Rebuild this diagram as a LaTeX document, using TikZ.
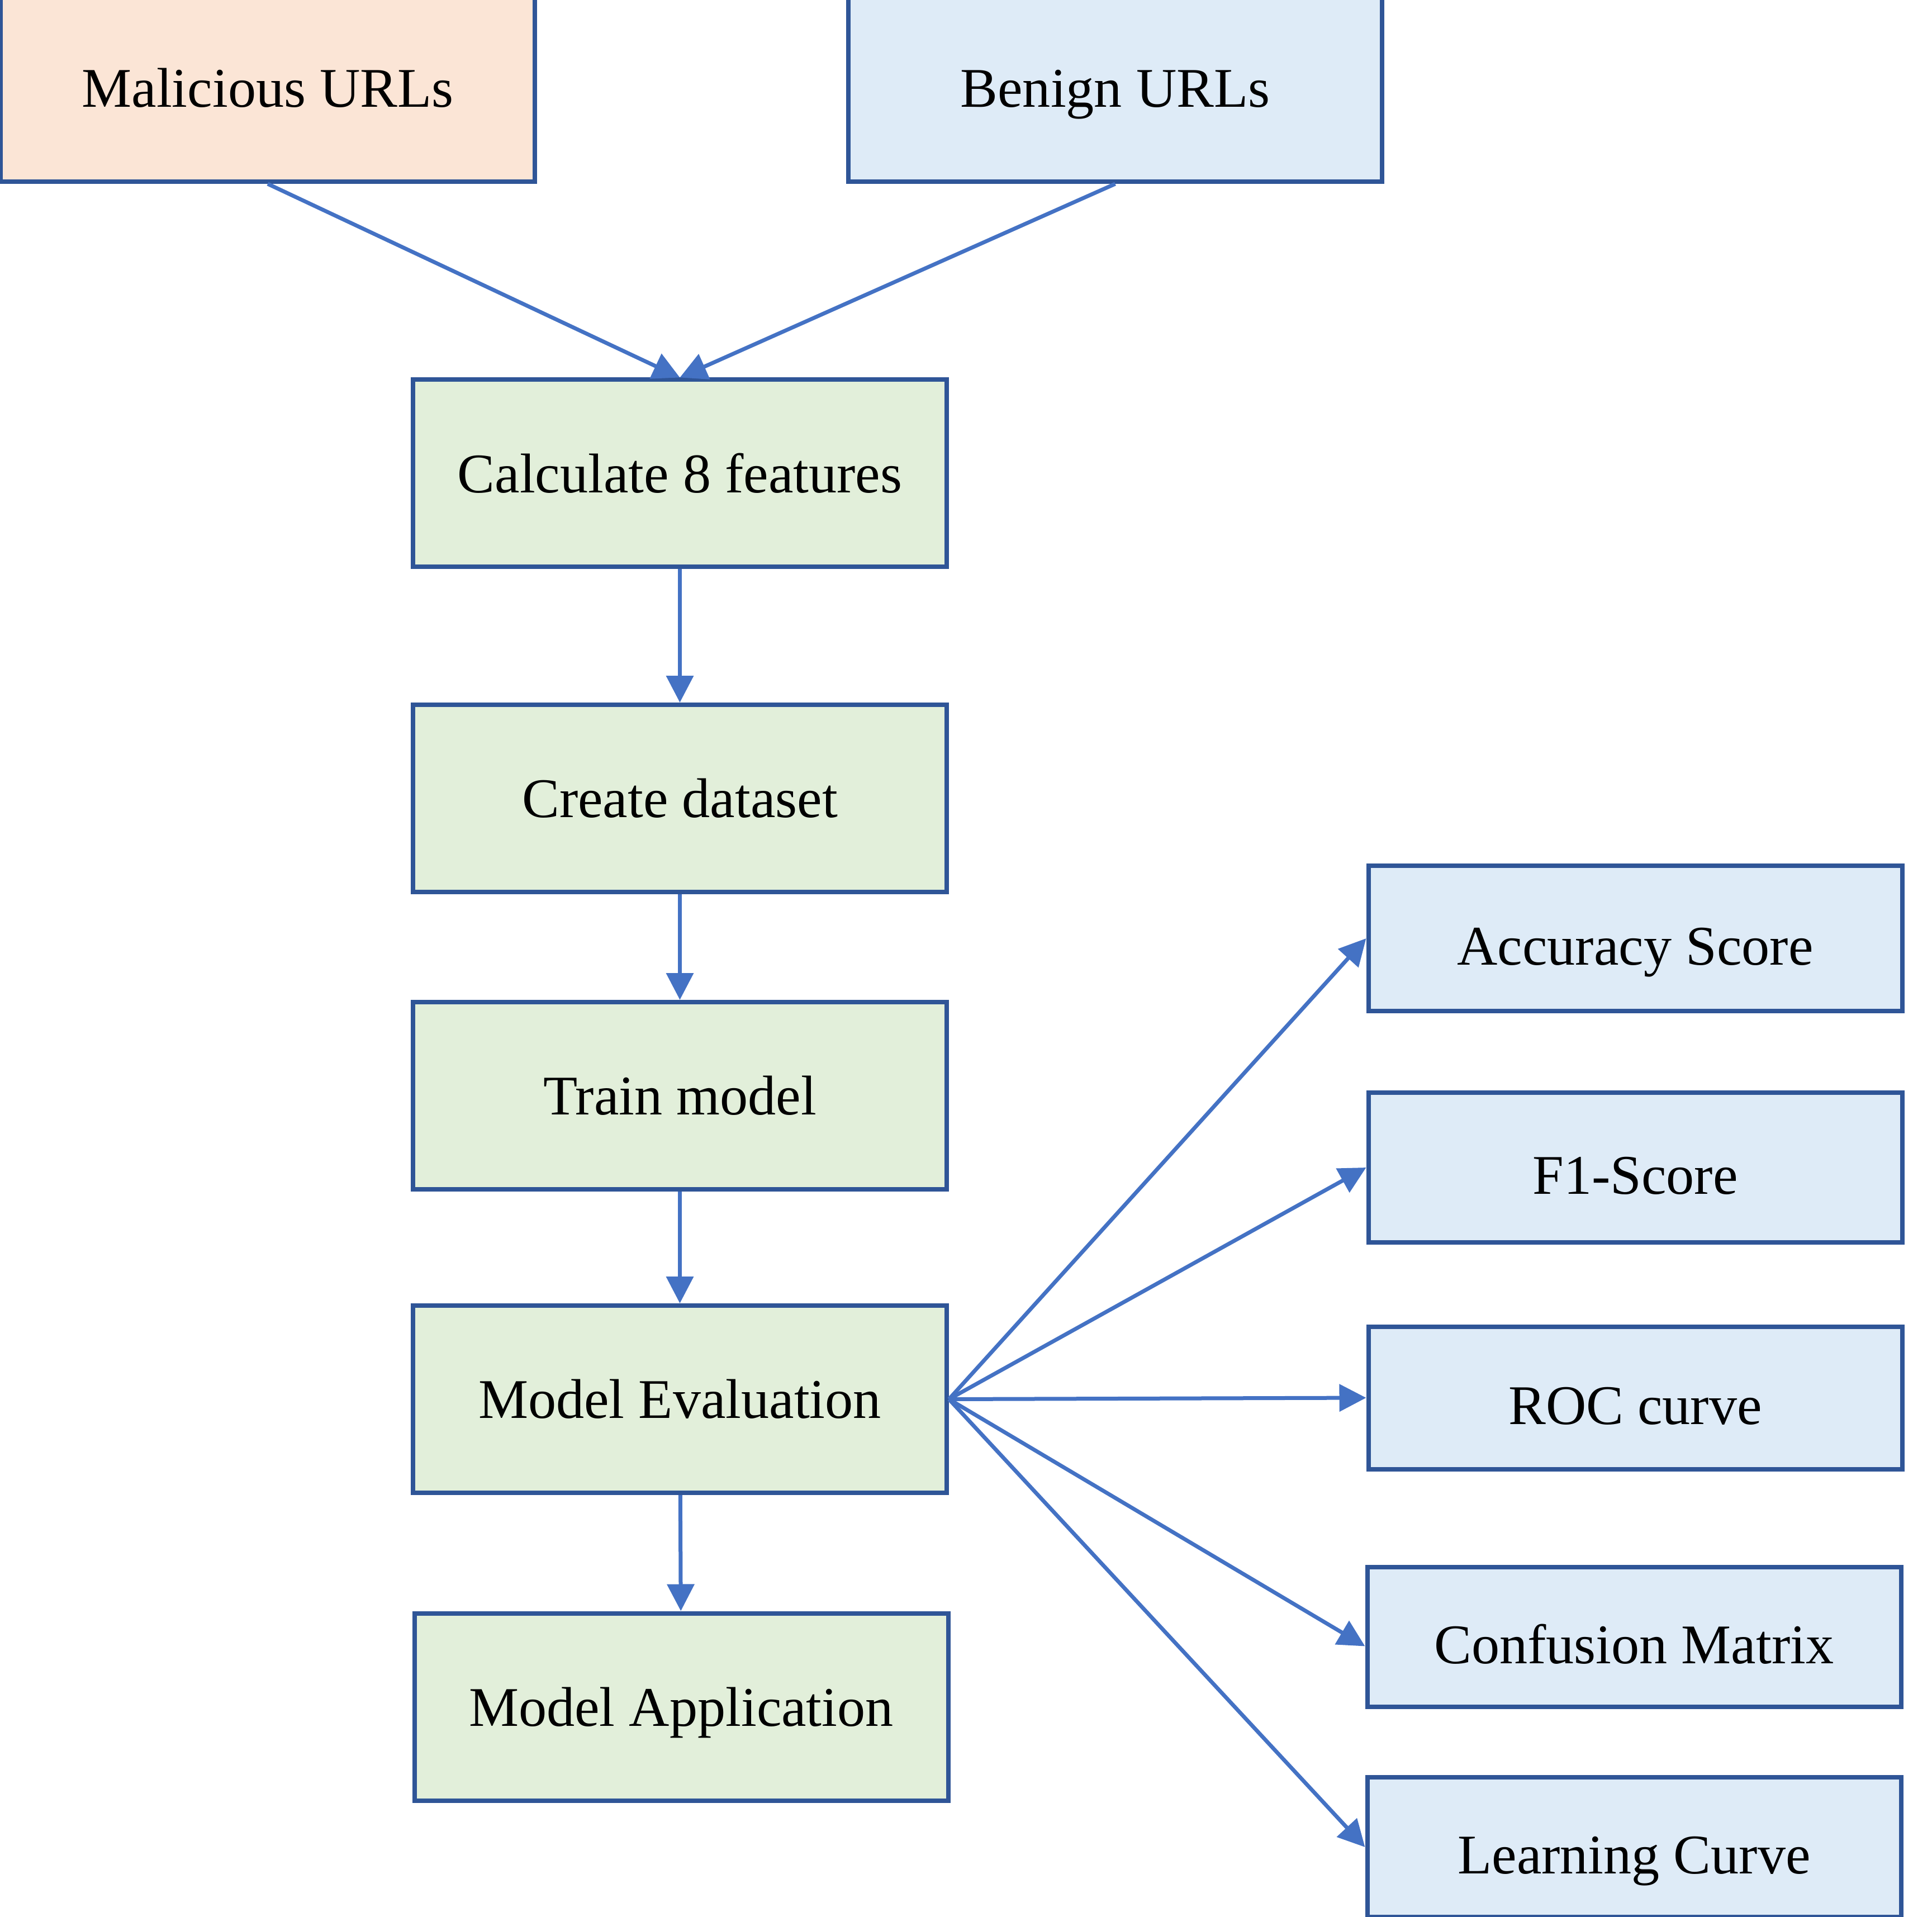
\documentclass[tikz,border=0pt]{standalone}
\usepackage{fontspec}
\setmainfont{Liberation Serif}
\usepackage{xcolor}
\usepackage{tikz}
\usetikzlibrary{arrows.meta}
\definecolor{boxline}{HTML}{2F5597}
\definecolor{arrowblue}{HTML}{4472C4}
\definecolor{stepgreen}{HTML}{E2EFDA}
\definecolor{metricblue}{HTML}{DEEBF7}
\definecolor{urlorange}{HTML}{FBE5D6}

\begin{document}
\begin{tikzpicture}[
    box/.style={draw=boxline, line width=0.08cm, minimum width=9.55cm, minimum height=3.35cm,
        text height=19.7pt, text depth=0.3pt, font=\fontsize{28.5pt}{34pt}\selectfont},
    stepbox/.style={box, fill=stepgreen},
    metric/.style={box, fill=metricblue, minimum height=2.55cm, text height=27.5pt},
    flow/.style={draw=arrowblue, line width=0.07cm, -{Triangle[length=0.48cm,width=0.48cm]}}
]
    \useasboundingbox (0,0) rectangle (34.57,-34.30);
    % inputs
    \node [box, fill=urlorange] (mal) at (4.79,-1.575) {Malicious URLs};
    \node [box, fill=metricblue] (ben) at (19.955,-1.575) {Benign URLs};
    % main steps
    \node [stepbox] (calc) at (12.165,-8.47) {Calculate 8 features};
    \node [stepbox] (data) at (12.165,-14.285) {Create dataset};
    \node [stepbox] (train) at (12.165,-19.605) {Train model};
    \node [stepbox] (eval) at (12.165,-25.035) {Model Evaluation};
    \node [stepbox] (app) at (12.19,-30.54) {Model Application};
    % metrics
    \node [metric, minimum height=2.6cm] (acc) at (29.26,-16.79) {Accuracy Score};
    \node [metric, minimum height=2.68cm] (f1) at (29.26,-20.89) {F1-Score};
    \node [metric] (roc) at (29.26,-25.01) {ROC curve};
    \node [metric, minimum height=2.5cm] (conf) at (29.24,-29.285) {Confusion Matrix};
    \node [metric, minimum height=2.5cm] (learn) at (29.24,-33.05) {Learning Curve};

    \draw [flow] (mal.south) -- (calc.north);
    \draw [flow] (ben.south) -- (calc.north);
    \draw [flow] (calc) -- (data);
    \draw [flow] (data) -- (train);
    \draw [flow] (train) -- (eval);
    \draw [flow] (eval) -- (app);
    \draw [flow] (eval.east) -- (acc.west);
    \draw [flow] (eval.east) -- (f1.west);
    \draw [flow] (eval.east) -- (roc.west);
    \draw [flow] (eval.east) -- ([yshift=-0.17cm]conf.west);
    \draw [flow] (eval.east) -- (learn.west);
\end{tikzpicture}
\end{document}
